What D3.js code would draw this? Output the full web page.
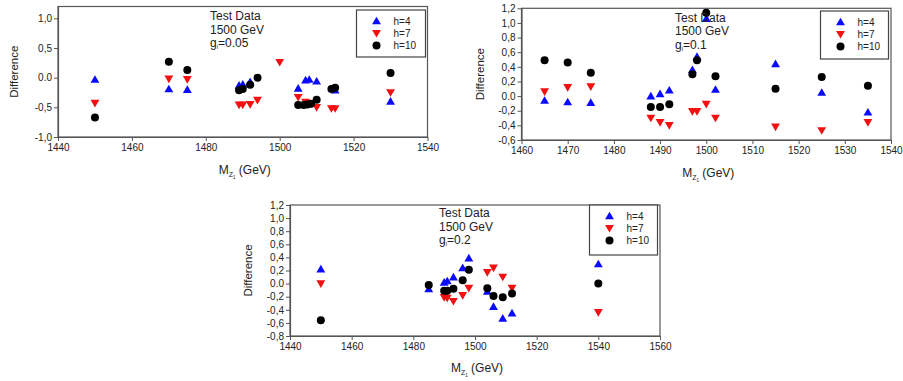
<!DOCTYPE html>
<html>
<head>
<meta charset="utf-8">
<script src="https://cdn.jsdelivr.net/npm/d3@7"></script>
<style>
  body { margin: 0; background: #fff; }
  text { font-family: Arial, "Liberation Sans", sans-serif; fill: #222; }
</style>
</head>
<body>
<svg id="drawing_region"></svg>
<script>
// ---- data ----
// panel 1 : gl = 0.05
var p1_h4 = [[1450,-0.03],[1470,-0.19],[1475,-0.2],[1489,-0.13],[1490,-0.11],[1492,-0.07],
             [1505,-0.18],[1507,-0.04],[1508,-0.03],[1510,-0.06],[1515,-0.21],[1530,-0.4]];
var p1_h7 = [[1450,-0.43],[1470,-0.02],[1475,-0.03],[1489,-0.46],[1490,-0.46],[1492,-0.45],[1494,-0.38],
             [1500,0.26],[1505,-0.33],[1507,-0.41],[1510,-0.5],[1514,-0.52],[1515,-0.52],[1530,-0.25]];
var p1_h10 = [[1450,-0.67],[1470,0.27],[1475,0.13],[1489,-0.21],[1490,-0.19],[1492,-0.12],[1494,0.0],
              [1505,-0.46],[1506.5,-0.46],[1507.5,-0.45],[1508.5,-0.44],[1510,-0.37],[1514,-0.19],[1515,-0.17],[1530,0.08]];

// panel 2 : gl = 0.1
var p2_h4 = [[1465,-0.06],[1470,-0.08],[1475,-0.09],[1488,0.0],[1490,0.03],[1492,0.08],[1497,0.36],
             [1498,0.54],[1500,1.06],[1502,0.09],[1515,0.44],[1525,0.05],[1535,-0.22]];
var p2_h7 = [[1465,0.06],[1470,0.12],[1475,0.13],[1488,-0.30],[1490,-0.36],[1492,-0.40],[1497,-0.21],
             [1498,-0.21],[1500,-0.11],[1502,-0.30],[1515,-0.42],[1525,-0.47],[1535,-0.36]];
var p2_h10 = [[1465,0.49],[1470,0.46],[1475,0.32],[1488,-0.15],[1490,-0.15],[1492,-0.11],[1497,0.30],
              [1498,0.49],[1500,1.14],[1502,0.27],[1515,0.10],[1525,0.26],[1535,0.14]];

// panel 3 : gl = 0.2
var p3_h4 = [[1450,0.22],[1485,-0.08],[1490,0.02],[1491,0.04],[1493,0.1],[1496,0.24],[1498,0.39],
             [1504,-0.12],[1506,-0.35],[1509,-0.53],[1512,-0.45],[1540,0.3]];
var p3_h7 = [[1450,0.0],[1490,-0.21],[1491,-0.22],[1493,-0.27],[1496,-0.18],[1498,-0.07],
             [1504,0.17],[1506,0.24],[1509,0.1],[1512,-0.07],[1540,-0.44]];
var p3_h10 = [[1450,-0.56],[1485,-0.02],[1490,-0.11],[1491,-0.11],[1493,-0.08],[1496,0.05],[1498,0.21],
              [1504,-0.07],[1506,-0.19],[1509,-0.21],[1512,-0.15],[1540,0.0]];

var series_names = ['h=4', 'h=7', 'h=10'];
var ann_lines = ['Test Data', '1500 GeV'];

var p1_xticks = [1440, 1460, 1480, 1500, 1520, 1540];
var p1_yticks = [-1.0, -0.5, 0.0, 0.5, 1.0];
var p2_xticks = [1460, 1470, 1480, 1490, 1500, 1510, 1520, 1530, 1540];
var p2_yticks = [-0.6, -0.4, -0.2, 0.0, 0.2, 0.4, 0.6, 0.8, 1.0, 1.2];
var p3_xticks = [1440, 1460, 1480, 1500, 1520, 1540, 1560];
var p3_yticks = [-0.8, -0.6, -0.4, -0.2, 0.0, 0.2, 0.4, 0.6, 0.8, 1.0, 1.2];

// ---- drawing ----
var width = 903;
var height = 381;
var svg = d3.select('#drawing_region')
    .attr('width', width)
    .attr('height', height);

var colors = ['#0a0aff', '#f21010', '#000'];
var fmt = function(d) {
    if (d === 0) return '0.0';
    return d3.format('.1f')(d).replace('.', ',').replace('−', '-');
};

function marker(g, kind, x, y) {
    if (kind === 0) {
        g.append('path').attr('d', d3.symbol(d3.symbolTriangle, 34)())
            .attr('transform', `translate(${x},${y + 0.8})`).attr('fill', colors[0]);
    } else if (kind === 1) {
        g.append('path').attr('d', d3.symbol(d3.symbolTriangle, 34)())
            .attr('transform', `translate(${x},${y - 0.8}) rotate(180)`).attr('fill', colors[1]);
    } else {
        g.append('circle').attr('cx', x).attr('cy', y).attr('r', 4).attr('fill', colors[2]);
    }
}

function drawPanel(p) {
    var xscale = d3.scaleLinear().domain(p.xdom).range([p.left, p.right]);
    var yscale = d3.scaleLinear().domain(p.ydom).range([p.bottom, p.top]);
    var g = svg.append('g');

    // frame
    g.append('rect')
        .attr('x', p.left).attr('y', p.top)
        .attr('width', p.right - p.left).attr('height', p.bottom - p.top)
        .attr('fill', 'none').attr('stroke', '#555').attr('stroke-width', 1.2);

    var xaxis = d3.axisBottom(xscale).tickValues(p.xticks).tickSize(4).tickSizeOuter(0)
        .tickPadding(3).tickFormat(d3.format('d'));
    var yaxis = d3.axisLeft(yscale).tickValues(p.yticks).tickSize(4).tickSizeOuter(0)
        .tickPadding(2).tickFormat(fmt);

    var xg = g.append('g').attr('transform', `translate(0, ${p.bottom})`).call(xaxis);
    var yg = g.append('g').attr('transform', `translate(${p.left}, 0)`).call(yaxis);
    [xg, yg].forEach(function(a) {
        a.select('.domain').attr('stroke', '#555').attr('stroke-width', 1.2);
        a.selectAll('.tick line').attr('stroke', '#555');
        a.selectAll('.tick text').attr('font-size', 10).attr('fill', '#333')
            .attr('font-family', 'Arial, "Liberation Sans", sans-serif');
    });

    // axis titles
    g.append('text')
        .attr('transform', `translate(${p.ylabx}, ${(p.top + p.bottom) / 2}) rotate(-90)`)
        .attr('text-anchor', 'middle').attr('font-size', 11.5).text('Difference');
    var xl = g.append('text')
        .attr('x', (p.left + p.right) / 2 + 2).attr('y', p.xlaby)
        .attr('text-anchor', 'middle').attr('font-size', 12);
    xl.append('tspan').text('M');
    xl.append('tspan').attr('font-size', 7).attr('dy', 3).text('Z');
    xl.append('tspan').attr('font-size', 4.5).attr('dy', 1.5).text('1');
    xl.append('tspan').attr('dy', -4.5).text(' (GeV)');

    // points
    p.series.forEach(function(s, k) {
        s.forEach(function(d) { marker(g, k, xscale(d[0]), yscale(d[1])); });
    });

    // annotation
    var at = g.append('text').attr('font-size', 12);
    ann_lines.forEach(function(t, i) {
        at.append('tspan').attr('x', p.annx).attr('y', p.anny + i * 13.5).text(t);
    });
    at.append('tspan').attr('x', p.annx).attr('y', p.anny + 27).text('g');
    at.append('tspan').attr('font-size', 6).attr('dy', 2).text('l');
    at.append('tspan').attr('dy', -2).text('=' + p.gl);

    // legend
    g.append('rect')
        .attr('x', p.leg[0]).attr('y', p.leg[1]).attr('width', p.leg[2]).attr('height', p.leg[3])
        .attr('fill', '#fff').attr('stroke', '#444').attr('stroke-width', 1.2);
    series_names.forEach(function(n, k) {
        var yy = p.leg[1] + 11 + k * 12.3;
        marker(g, k, p.leg[0] + 20, yy);
        g.append('text').attr('x', p.leg[0] + 37).attr('y', yy + 3.5)
            .attr('font-size', 10).text(n);
    });
}

drawPanel({
    left: 58, right: 427.5, top: 6.5, bottom: 137,
    xdom: [1440, 1540], ydom: [-1, 1.2],
    xticks: p1_xticks, yticks: p1_yticks,
    ylabx: 18, xlaby: 174,
    series: [p1_h4, p1_h7, p1_h10],
    annx: 210, anny: 20, gl: '0.05',
    leg: [356.5, 10, 69, 47]
});
drawPanel({
    left: 521.5, right: 891, top: 8.3, bottom: 140,
    xdom: [1460, 1540], ydom: [-0.6, 1.2],
    xticks: p2_xticks, yticks: p2_yticks,
    ylabx: 484, xlaby: 177,
    series: [p2_h4, p2_h7, p2_h10],
    annx: 675, anny: 21.5, gl: '0.1',
    leg: [820.5, 11, 68, 48]
});
drawPanel({
    left: 290, right: 660, top: 205, bottom: 336,
    xdom: [1440, 1560], ydom: [-0.8, 1.2],
    xticks: p3_xticks, yticks: p3_yticks,
    ylabx: 252, xlaby: 372,
    series: [p3_h4, p3_h7, p3_h10],
    annx: 439, anny: 217, gl: '0.2',
    leg: [589.5, 205, 68, 50]
});
</script>
</body>
</html>
